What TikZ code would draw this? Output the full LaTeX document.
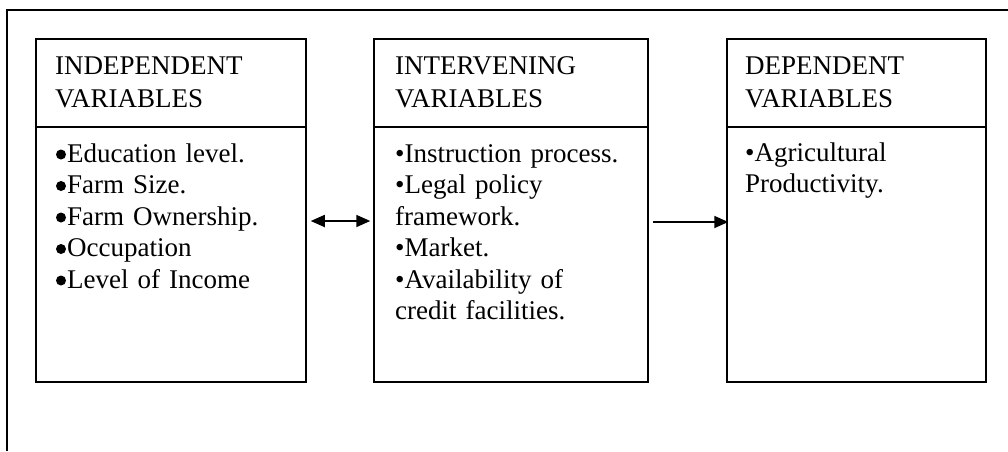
\documentclass[tikz,border=0pt]{standalone}
\usepackage{fontspec}
\setmainfont{Liberation Serif}
\usetikzlibrary{arrows.meta}
\newcommand\bulgap{\hspace*{12pt}}
\tikzset{
  >={Triangle[length=14pt,width=12pt]},
  boxst/.style={draw=black, line width=1.5pt, inner sep=0pt, minimum height=343pt},
  divst/.style={draw=black, line width=1.2pt},
  headst/.style={inner sep=0pt, anchor=base west, text width=260pt, align=left, font=\fontsize{27}{33}\selectfont},
  bodyst/.style={inner sep=0pt, anchor=base west, text width=260pt, align=left, font=\fontsize{27}{31.5}\selectfont},
  arr/.style={line width=1.8pt},
  bulst/.style={fill=black}
}
\begin{document}
\begin{tikzpicture}[x=1pt,y=-1pt]
\useasboundingbox (0,0) rectangle (1008,451);
% outer frame
\draw[line width=1.5pt] (7,451) -- (7,10) -- (1008,10);
% boxes
\node[boxst, minimum width=270pt] (box1) at (171,210.5) {};
\node[boxst, minimum width=274pt] (box2) at (511,210.5) {};
\node[boxst, minimum width=259pt] (box3) at (856.5,210.5) {};
\draw[divst] (box1.west |- 0,127) -- (box1.east |- 0,127);
\draw[divst] (box2.west |- 0,127) -- (box2.east |- 0,127);
\draw[divst] (box3.west |- 0,127) -- (box3.east |- 0,127);
% headers
\node[headst] (h1) at (55,74) {INDEPENDENT\\VARIABLES};
\node[headst] (h2) at (395,74) {INTERVENING\\VARIABLES};
\node[headst] (h3) at (745,74) {DEPENDENT\\VARIABLES};
% bodies
\foreach \i in {0,...,4} \fill[bulst] (61,{154.5+31.5*\i}) circle (5pt);
\node[bodyst] (t1) at (55,162) {\bulgap Education level.\\\bulgap Farm Size.\\\bulgap Farm Ownership.\\\bulgap Occupation\\\bulgap Level of Income};
\node[bodyst] (t2) at (395,162) {•Instruction process.\\•Legal policy\\framework.\\•Market.\\•Availability of\\credit facilities.};
\node[bodyst] (t3) at (745,161) {•Agricultural\\Productivity.};
% arrows
\draw[arr,<->] ([xshift=4pt,yshift=-10.5pt]box1.east) -- ([xshift=-3pt,yshift=-10.5pt]box2.west);
\draw[arr,->] ([xshift=4pt,yshift=-11.5pt]box2.east) -- ([xshift=2pt,yshift=-11.5pt]box3.west);
\end{tikzpicture}
\end{document}
